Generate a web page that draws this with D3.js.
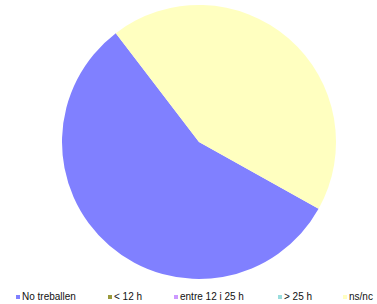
<!DOCTYPE html>
<html><head><meta charset="utf-8">
<script src="https://cdn.jsdelivr.net/npm/d3@7"></script>
<style>body{margin:0;background:#fff;}svg{display:block;}</style>
</head><body>
<svg id="c" width="377" height="304"></svg>
<script>
const categories = ["No treballen", "< 12 h", "entre 12 i 25 h", "> 25 h", "ns/nc"];
const values = [56.5, 0, 0, 0, 43.5];
const colors = ["#8080ff", "#9a9a3c", "#cc99ff", "#99dddd", "#ffffc0"];

const svg = d3.select("#c");
const cx = 199, cy = 142, r = 137;
const startA = 119.2 * Math.PI / 180;
const pie = d3.pie().sort(null).startAngle(startA).endAngle(startA + 2 * Math.PI);
const arcs = pie(values);
const arc = d3.arc().innerRadius(0).outerRadius(r);
const g = svg.append("g").attr("transform", `translate(${cx},${cy})`);
g.selectAll("path").data(arcs).enter().append("path")
  .attr("d", arc)
  .attr("fill", (d, i) => colors[i]);

const legendX = [16, 108, 174, 278, 343];
const lg = svg.append("g");
categories.forEach((c, i) => {
  lg.append("rect").attr("x", legendX[i]).attr("y", 295).attr("width", 4).attr("height", 4).attr("fill", colors[i]);
  lg.append("text").attr("x", legendX[i] + 6).attr("y", 299.5)
    .attr("font-family", "Liberation Sans, Arial, sans-serif").attr("font-size", 10)
    .attr("fill", "#111").text(c);
});
</script>
</body></html>
